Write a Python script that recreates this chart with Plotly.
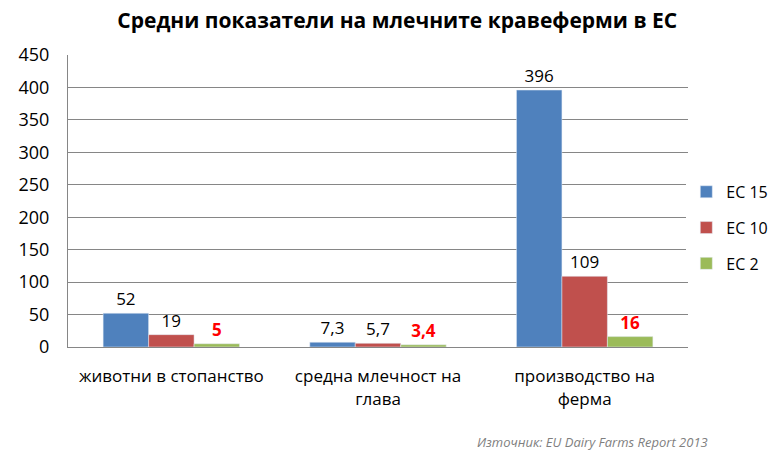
import plotly.graph_objects as go

categories = ["животни в стопанство", "средна млечност на<br>глава", "производство на<br>ферма"]
ec15 = [52, 7.3, 396]
ec10 = [19, 5.7, 109]
ec2 = [5, 3.4, 16]
ec15_txt = ["52", "7,3", "396"]
ec10_txt = ["19", "5,7", "109"]
ec2_txt = ["5", "3,4", "16"]

FONT = "'Open Sans', sans-serif"

fig = go.Figure()
fig.add_bar(name="EC 15", x=categories, y=ec15, text=ec15_txt, textposition="outside", legendgroup="a",
            marker_color="#4F81BD", textfont=dict(color="black", size=17, family=FONT), cliponaxis=False)
fig.add_bar(name="EC 10", x=categories, y=ec10, text=ec10_txt, textposition="outside", legendgroup="b",
            marker_color="#C0504D", textfont=dict(color="black", size=17, family=FONT), cliponaxis=False)
fig.add_bar(name="EC 2", x=categories, y=ec2, text=["<b>%s</b>" % t for t in ec2_txt], textposition="outside",
            legendgroup="c",
            marker_color="#9BBB59", textfont=dict(color="#FF0000", size=17, family=FONT), cliponaxis=False)

fig.update_layout(
    width=779, height=463,
    margin=dict(l=68, r=91, t=55, b=116, autoexpand=False),
    paper_bgcolor="white", plot_bgcolor="white",
    font=dict(family=FONT, size=17, color="black"),
    title=dict(text="<b>Средни показатели на млечните кравеферми в ЕС</b>", x=0.51, xanchor="center",
               y=0.955, yanchor="middle", font=dict(size=21, family=FONT, color="black")),
    barmode="group", bargap=0.34, bargroupgap=0,
    showlegend=True,
    legend=dict(xref="container", x=0.881, y=0.408, xanchor="left", yanchor="middle", font=dict(size=16),
                tracegroupgap=12, itemwidth=30, traceorder="grouped"),
)
fig.update_yaxes(range=[0, 450], dtick=50, showgrid=True, gridcolor="#868686", gridwidth=1,
                 showline=True, linecolor="#868686", linewidth=1, ticks="", zeroline=False,
                 tickfont=dict(size=18), ticklabelstandoff=14)
fig.update_xaxes(showline=True, linecolor="#868686", linewidth=1, ticks="",
                 tickfont=dict(size=17), ticklabelstandoff=14)
fig.add_annotation(text="<i>Източник: EU Dairy Farms Report 2013</i>", xref="paper", yref="paper",
                   x=1.035, y=-0.325, xanchor="right", yanchor="middle", showarrow=False,
                   font=dict(size=13, color="#7F7F7F", family=FONT))

fig.write_html("out.html")
